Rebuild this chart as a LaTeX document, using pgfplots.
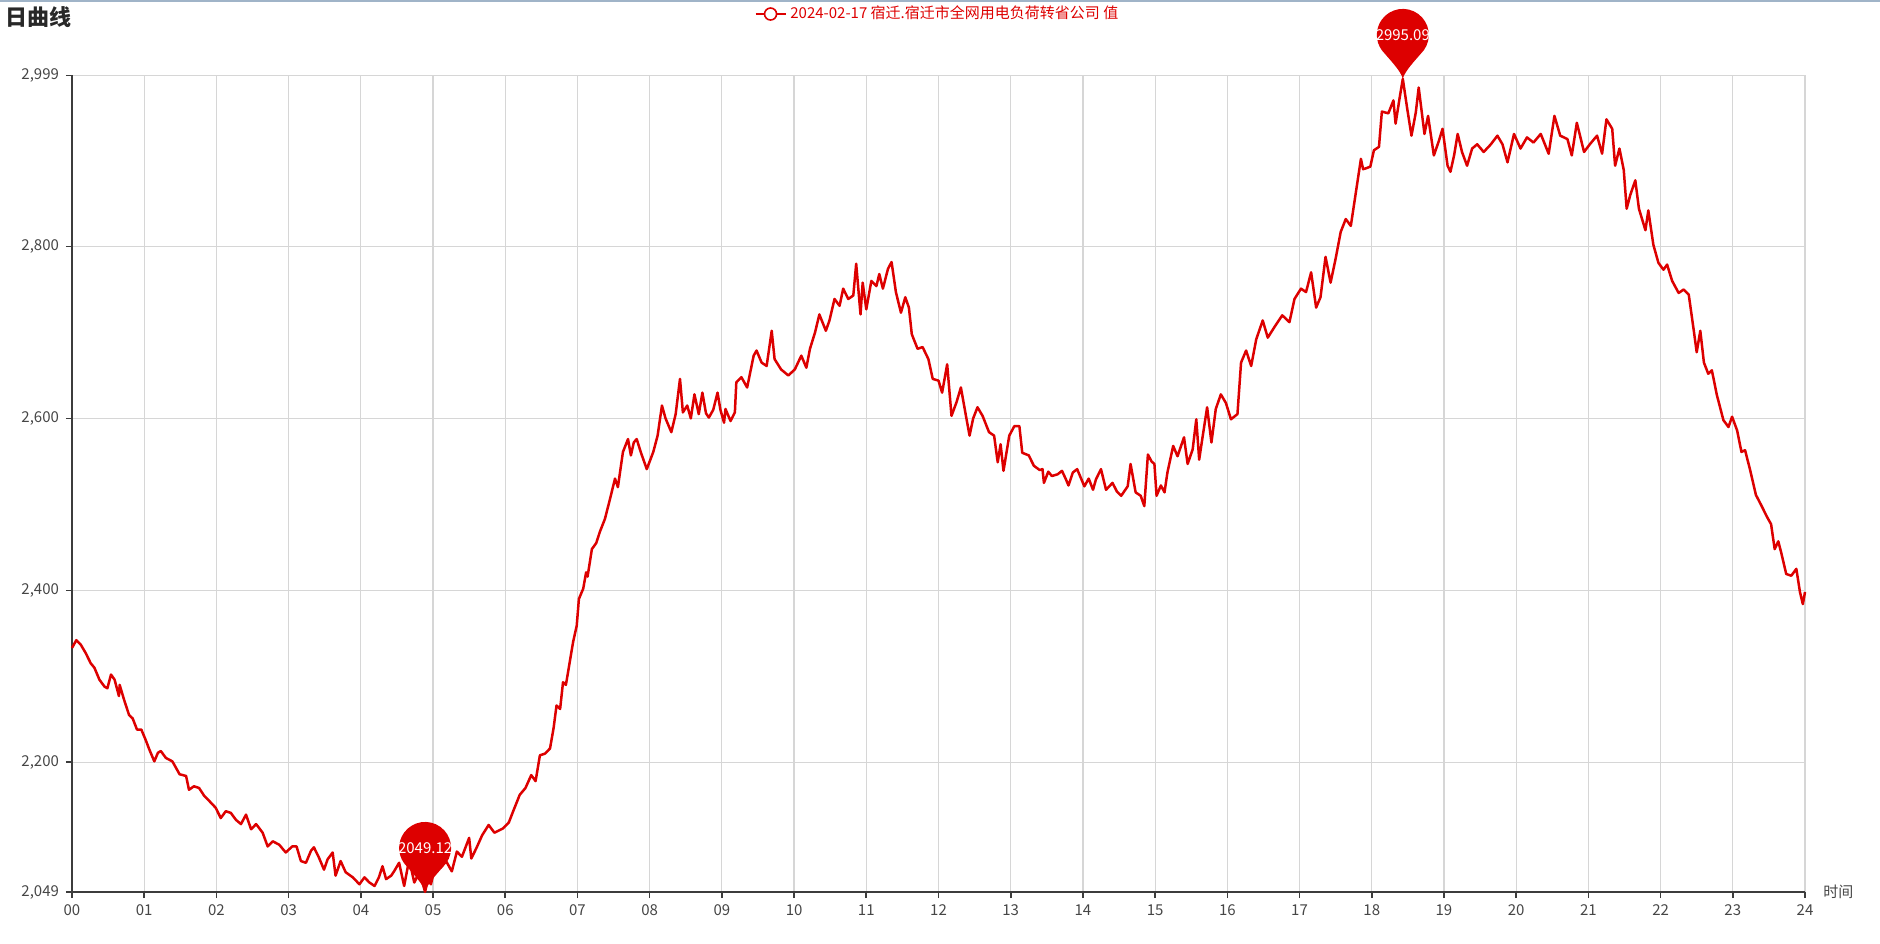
\documentclass[border=0pt]{standalone}
\usepackage{fontspec}
\usepackage{pgfplots}
\pgfplotsset{compat=1.18}
\newfontfamily\cjk{Noto Sans CJK SC}
\definecolor{linered}{RGB}{221,0,0}
\definecolor{gridc}{RGB}{214,214,214}
\definecolor{axc}{RGB}{60,60,60}
\definecolor{txtc}{RGB}{70,70,70}
\definecolor{titlec}{RGB}{40,40,40}
\definecolor{topline}{RGB}{160,180,200}

\pgfdeclareplotmark{pin}{%
  \pgfpathmoveto{\pgfpointorigin}%
  \pgfpathcurveto{\pgfpoint{1pt}{4pt}}{\pgfpoint{6pt}{9pt}}{\pgfpoint{10.5pt}{14.3pt}}%
  \pgfpatharc{-36.2}{216.2}{13pt}%
  \pgfpathcurveto{\pgfpoint{-6pt}{9pt}}{\pgfpoint{-1pt}{4pt}}{\pgfpointorigin}%
  \pgfpathclose
  \pgfusepathqfill}

\pgfplotstableread{
x y
0.00 2333
0.06 2342
0.12 2337
0.19 2327
0.26 2315
0.31 2310
0.38 2296
0.45 2288
0.49 2286
0.54 2302
0.59 2296
0.65 2277
0.66 2290
0.72 2273
0.79 2255
0.84 2251
0.90 2238
0.96 2238
1.02 2226
1.07 2215
1.14 2201
1.19 2211
1.23 2213
1.30 2205
1.39 2201
1.49 2186
1.58 2184
1.62 2168
1.69 2172
1.76 2170
1.83 2161
1.90 2155
1.99 2147
2.06 2135
2.13 2143
2.20 2141
2.27 2133
2.34 2128
2.41 2139
2.48 2122
2.55 2128
2.64 2118
2.71 2102
2.78 2108
2.87 2104
2.96 2095
3.05 2102
3.11 2102
3.17 2085
3.24 2083
3.31 2097
3.35 2101
3.42 2089
3.49 2075
3.54 2087
3.61 2095
3.65 2068
3.72 2085
3.79 2072
3.89 2066
3.98 2058
4.05 2066
4.12 2060
4.19 2056
4.25 2066
4.30 2079
4.35 2064
4.42 2068
4.46 2073
4.53 2083
4.60 2056
4.67 2087
4.74 2060
4.81 2072
4.86 2058
4.89 2049.12
4.93 2065
4.97 2058
5.02 2075
5.10 2077
5.18 2085
5.26 2073
5.33 2096
5.40 2090
5.50 2112
5.53 2088
5.60 2100
5.68 2115
5.77 2127
5.85 2118
5.97 2123
6.05 2130
6.11 2143
6.20 2162
6.28 2170
6.36 2185
6.42 2178
6.48 2208
6.55 2210
6.62 2216
6.67 2240
6.71 2266
6.76 2262
6.80 2293
6.84 2290
6.87 2305
6.94 2340
6.99 2359
7.02 2390
7.08 2402
7.12 2421
7.14 2416
7.20 2448
7.26 2455
7.31 2468
7.38 2483
7.45 2506
7.52 2530
7.56 2520
7.63 2561
7.70 2576
7.74 2557
7.78 2572
7.82 2576
7.88 2560
7.96 2541
8.05 2561
8.11 2580
8.17 2615
8.22 2600
8.30 2584
8.36 2605
8.42 2646
8.46 2607
8.52 2615
8.57 2600
8.62 2628
8.68 2605
8.73 2630
8.78 2606
8.82 2601
8.88 2610
8.94 2630
8.98 2610
9.03 2595
9.05 2611
9.12 2597
9.18 2607
9.20 2642
9.27 2648
9.35 2636
9.44 2673
9.48 2679
9.55 2665
9.62 2661
9.69 2702
9.73 2669
9.82 2657
9.92 2650
10.01 2657
10.10 2673
10.17 2659
10.22 2681
10.29 2700
10.35 2721
10.44 2702
10.49 2714
10.56 2739
10.63 2731
10.68 2751
10.75 2739
10.82 2743
10.86 2780
10.92 2721
10.95 2758
11.00 2727
11.07 2760
11.14 2754
11.18 2768
11.23 2751
11.30 2774
11.35 2782
11.41 2747
11.48 2723
11.54 2741
11.59 2729
11.63 2698
11.71 2681
11.78 2683
11.86 2669
11.92 2646
12.00 2644
12.05 2630
12.12 2663
12.18 2603
12.25 2619
12.31 2636
12.38 2603
12.43 2580
12.48 2600
12.54 2613
12.61 2603
12.70 2584
12.77 2580
12.82 2549
12.86 2570
12.90 2539
12.98 2580
13.05 2591
13.12 2591
13.16 2560
13.25 2557
13.32 2545
13.40 2540
13.44 2541
13.46 2525
13.52 2538
13.57 2533
13.65 2535
13.71 2539
13.76 2530
13.80 2522
13.86 2537
13.92 2541
14.02 2521
14.08 2530
14.14 2517
14.18 2529
14.25 2541
14.32 2517
14.41 2525
14.47 2515
14.53 2510
14.62 2521
14.66 2547
14.73 2514
14.80 2510
14.85 2498
14.90 2558
14.95 2550
14.99 2547
15.02 2510
15.08 2522
15.13 2514
15.17 2537
15.25 2568
15.31 2556
15.40 2578
15.45 2547
15.52 2564
15.57 2599
15.61 2552
15.66 2580
15.72 2613
15.78 2572
15.84 2611
15.91 2628
15.98 2618
16.05 2599
16.14 2605
16.19 2665
16.26 2679
16.33 2661
16.40 2692
16.49 2714
16.56 2694
16.65 2706
16.76 2720
16.86 2712
16.93 2739
17.02 2751
17.09 2747
17.16 2770
17.23 2729
17.29 2741
17.36 2788
17.43 2758
17.50 2786
17.57 2817
17.64 2832
17.71 2824
17.78 2863
17.85 2902
17.88 2890
17.92 2891
17.98 2893
18.03 2912
18.10 2916
18.14 2957
18.23 2955
18.30 2970
18.33 2943
18.39 2975
18.43 2995.09
18.49 2961
18.55 2929
18.61 2956
18.65 2985
18.73 2931
18.78 2952
18.86 2906
18.93 2923
18.98 2937
19.05 2894
19.09 2887
19.14 2906
19.19 2931
19.25 2910
19.32 2894
19.39 2914
19.46 2919
19.55 2910
19.65 2919
19.74 2929
19.81 2919
19.88 2898
19.97 2931
20.06 2914
20.15 2927
20.24 2921
20.34 2931
20.45 2908
20.53 2952
20.61 2929
20.71 2925
20.77 2906
20.84 2944
20.94 2910
21.02 2919
21.12 2929
21.19 2908
21.25 2948
21.33 2937
21.37 2894
21.43 2914
21.49 2889
21.53 2844
21.58 2860
21.65 2877
21.70 2844
21.79 2819
21.83 2842
21.90 2802
21.97 2781
22.04 2773
22.09 2779
22.16 2760
22.25 2746
22.32 2750
22.39 2744
22.46 2702
22.50 2677
22.55 2702
22.60 2665
22.66 2652
22.71 2656
22.78 2627
22.87 2598
22.94 2590
22.99 2602
23.06 2586
23.12 2561
23.17 2563
23.24 2540
23.32 2511
23.40 2498
23.47 2486
23.53 2477
23.58 2448
23.63 2457
23.67 2444
23.74 2419
23.81 2417
23.88 2425
23.93 2398
23.97 2384
24.00 2398
}\loaddata

\pgfplotstableread{
x y lab
18.43 2995.09 2995.09
4.89 2049.12 2049.12
}\extremes

\begin{document}
\begin{tikzpicture}[font=\cjk]
\begin{axis}[
  name=ax,
  width=866.5pt, height=408.25pt, scale only axis,
  xmin=0, xmax=24, ymin=2049, ymax=2999,
  xtick={0,1,...,24},
  xticklabels={00,01,02,03,04,05,06,07,08,09,10,11,12,13,14,15,16,17,18,19,20,21,22,23,24},
  ytick={2049,2200,2400,2600,2800,2999},
  yticklabels={{2,049},{2,200},{2,400},{2,600},{2,800},{2,999}},
  axis x line*=bottom, axis y line*=left,
  axis line style={axc, line width=0.8pt, -},
  grid=major, major grid style={gridc, line width=0.6pt},
  tick align=outside, major tick length=3pt,
  tick style={axc, line width=0.8pt},
  ticklabel style={font=\cjk\fontsize{7.5}{9}\selectfont, text=txtc},
  /pgf/number format/assume math mode=true,
  clip=false,
  legend style={at={(0.5,1.0753)}, anchor=center, draw=none, fill=none,
    font=\cjk\fontsize{7.5}{9}\selectfont, text=linered, inner sep=0pt},
  legend image code/.code={
    \draw[linered, line width=0.8pt] (0pt,0pt) -- (15pt,0pt);
    \draw[linered, fill=white, line width=0.8pt] (7.5pt,0pt) circle (3pt);
  },
]
\addplot[linered, line width=1.25pt, no markers, line join=round] table[x=x,y=y] {\loaddata};
\addlegendentry{2024-02-17 宿迁.宿迁市全网用电负荷转省公司 值}
\addplot[forget plot, only marks, mark=pin, linered, fill=linered,
  point meta=explicit symbolic, nodes near coords,
  every node near coord/.append style={anchor=center, yshift=22pt, text=white,
    font=\cjk\fontsize{7.5}{9}\selectfont, inner sep=0pt}]
  table[x=x, y=y, meta=lab] {\extremes};
\node[anchor=west, inner sep=0pt, font=\cjk\bfseries\fontsize{11}{13}\selectfont, text=titlec]
  at (axis description cs:-0.0387,1.0716) {日曲线};
\node[anchor=west, inner sep=0pt, font=\cjk\fontsize{7.5}{9}\selectfont, text=txtc]
  at (axis description cs:1.0104,0) {时间};
\end{axis}
\pgfresetboundingbox
\path[use as bounding box] ([xshift=-36pt,yshift=-25.5pt]ax.south west) rectangle ([xshift=37.5pt,yshift=37.75pt]ax.north east);
\draw[topline, line width=1pt] ([xshift=-36pt,yshift=37.25pt]ax.north west) -- ([xshift=37.5pt,yshift=37.25pt]ax.north east);
\end{tikzpicture}
\end{document}
